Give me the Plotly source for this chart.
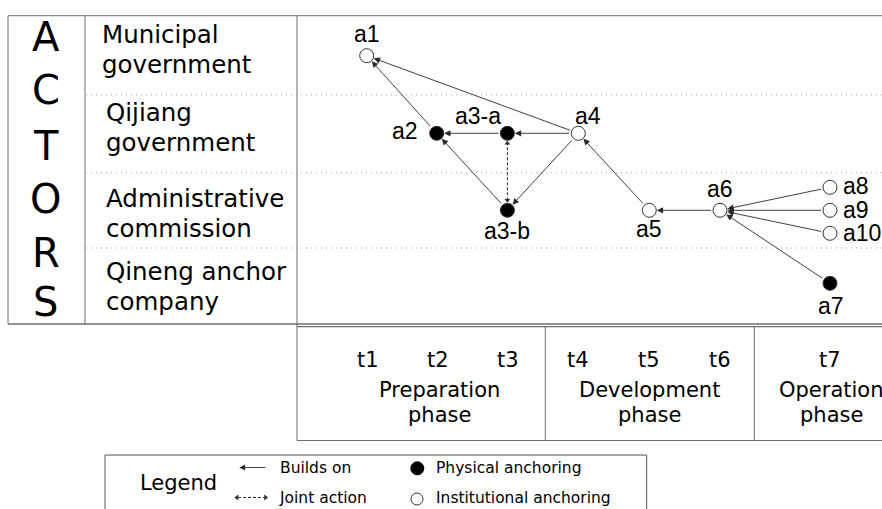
import plotly.graph_objects as go

# ---------------- data ----------------
actor_letters = ["A", "C", "T", "O", "R", "S"]
actor_lines = [["Municipal", "government"],
               ["Qijiang", "government"],
               ["Administrative", "commission"],
               ["Qineng anchor", "company"]]
time_steps = ["t1", "t2", "t3", "t4", "t5", "t6", "t7"]
phase_words = [["Preparation", "phase"], ["Development", "phase"], ["Operation", "phase"]]

node_names = ["a1", "a2", "a3-a", "a3-b", "a4", "a5", "a6", "a7", "a8", "a9", "a10"]
node_time = [1, 2, 3, 3, 4, 5, 6, 7, 7, 7, 7]          # time step index
node_actor = [0, 1, 1, 2, 1, 2, 2, 3, 2, 2, 2]         # actor row
node_slot = [0, 0, 0, 0, 0, 0, 0, 0, -1, 0, 1]         # sub-position inside a row
node_kind = ["inst", "phys", "phys", "phys", "inst", "inst", "inst",
             "phys", "inst", "inst", "inst"]

builds_on = [("a2", "a1"), ("a4", "a1"), ("a3-a", "a2"), ("a3-b", "a2"),
             ("a4", "a3-a"), ("a4", "a3-b"), ("a5", "a4"), ("a6", "a5"),
             ("a8", "a6"), ("a9", "a6"), ("a10", "a6"), ("a7", "a6")]
joint_action = [("a3-a", "a3-b")]

legend_items = ["Builds on", "Joint action", "Physical anchoring", "Institutional anchoring"]

# ---------------- layout constants (pixel scale) ----------------
W, H = 882, 509
col_x = {1: 366.7, 2: 436.7, 3: 507.4, 4: 578.3, 5: 649.3, 6: 720.0, 7: 830.0}
lane_y = [55.7, 133.3, 210.3, 283.3]
slot_gap = 23.0
lane_bounds = [15.7, 95.0, 172.7, 248.0, 324.0]
phase_edges = [297.0, 545.3, 754.3, 882.0]
phase_label_x = [439.5, 649.6, 831.0]

LINE = "#6e6e6e"
EDGE = "#2a2a2a"
SANS = "DejaVu Sans"
NODEF = "Liberation Sans"

# label placement relative to node: (dx, dy, xanchor)
label_off = {"a1": (0, -21.5, "center"), "a2": (-31.5, -2.6, "center"),
             "a3-a": (-29.8, -17.6, "center"), "a3-b": (0, 21.0, "center"),
             "a4": (10.0, -17.6, "center"), "a5": (0, 19.0, "center"),
             "a6": (0, -21.7, "center"), "a7": (0.7, 22.4, "center"),
             "a8": (11.5, -0.9, "left"), "a9": (11.5, -0.3, "left"),
             "a10": (11.5, 0.0, "left")}

def node_xy(name):
    i = node_names.index(name)
    return col_x[node_time[i]], lane_y[node_actor[i]] + slot_gap * node_slot[i]

fig = go.Figure()
shapes = []
ann = []

def hline(y, x0, x1, color=LINE, width=1.0, dash="solid"):
    shapes.append(dict(type="line", xref="x", yref="y", x0=x0, x1=x1, y0=y, y1=y,
                       line=dict(color=color, width=width, dash=dash)))

def vline(x, y0, y1, color=LINE, width=1.0):
    shapes.append(dict(type="line", xref="x", yref="y", x0=x, x1=x, y0=y0, y1=y1,
                       line=dict(color=color, width=width)))

# actor table frame
hline(lane_bounds[0], 8, W)
vline(8, lane_bounds[0], lane_bounds[-1])
vline(85, lane_bounds[0], lane_bounds[-1])
vline(phase_edges[0], lane_bounds[0], 440.5)
hline(lane_bounds[-1], 8, W, width=1.3)
for yb in lane_bounds[1:-1]:
    hline(yb, 86, W, color="#a8a8a8", width=1.0, dash="1px,4px")

# phase box
hline(326.6, phase_edges[0], W, width=1.3)
hline(440.5, phase_edges[0], W)
for xe in phase_edges[1:-1]:
    vline(xe, 326.6, 440.5)

# legend box
shapes.append(dict(type="rect", xref="x", yref="y", x0=105, x1=646.7, y0=455, y1=525,
                   line=dict(color="#555555", width=1.0), fillcolor="rgba(0,0,0,0)"))

def text(x, y, s, size, font=SANS, xanchor="center"):
    ann.append(dict(x=x, y=y, xref="x", yref="y", text=s, showarrow=False,
                    xanchor=xanchor, yanchor="middle", borderpad=0,
                    font=dict(family=font, size=size, color="black")))

# ACTORS column
letter_y = [37.0, 90.0, 146.0, 199.0, 252.5, 302.0]
for ch, yy in zip(actor_letters, letter_y):
    text(45.5, yy, ch, 40)

# actor names
actor_x = [101.0, 105.0, 105.0, 105.0]
actor_base = [[43.3, 72.7], [120.7, 150.7], [206.7, 236.7], [280.0, 310.0]]
for lines, xx, bases in zip(actor_lines, actor_x, actor_base):
    for s, b in zip(lines, bases):
        text(xx, b - 0.346 * 24.5, s, 24.5, xanchor="left")

# time steps & phases
for k, t in enumerate(time_steps, start=1):
    text(col_x[k] + (1 if k < 4 else 0), 360.4, t, 21)
for words, xx in zip(phase_words, phase_label_x):
    text(xx, 390.0, words[0], 21)
    text(xx, 415.2, words[1], 21)

# builds-on arrows
for src, dst in builds_on:
    (sx, sy), (dx, dy) = node_xy(src), node_xy(dst)
    ann.append(dict(x=dx, y=dy, ax=sx, ay=sy, xref="x", yref="y", axref="x", ayref="y",
                    text="", showarrow=True, arrowhead=2, arrowsize=1.4, arrowwidth=0.9,
                    arrowcolor=EDGE, standoff=7.5, startstandoff=7.5))

# joint action (dotted, double headed)
for a, b in joint_action:
    (ax_, ay_), (bx, by) = node_xy(a), node_xy(b)
    fig.add_trace(go.Scatter(x=[ax_, bx], y=[ay_ + 9, by - 9], mode="lines",
                             line=dict(color=EDGE, width=1, dash="3px,2px"),
                             hoverinfo="skip", showlegend=False))
    fig.add_trace(go.Scatter(x=[ax_, bx], y=[ay_ + 10, by - 10], mode="markers",
                             marker=dict(symbol=["triangle-up", "triangle-down"], size=5,
                                         color=EDGE, line=dict(width=0)),
                             hoverinfo="skip", showlegend=False))

# nodes
for kind, fill in (("inst", "white"), ("phys", "black")):
    xs, ys = [], []
    for n, k in zip(node_names, node_kind):
        if k == kind:
            x, y = node_xy(n)
            xs.append(x); ys.append(y)
    fig.add_trace(go.Scatter(x=xs, y=ys, mode="markers",
                             marker=dict(size=14, color=fill,
                                         line=dict(color="#333333", width=1)),
                             hoverinfo="skip", showlegend=False))

# node labels
for n in node_names:
    x, y = node_xy(n)
    ddx, ddy, xa = label_off[n]
    text(x + ddx, y + ddy, n, 23, font=NODEF, xanchor=xa)

# legend content
text(178.3, 482.5, "Legend", 21)
ann.append(dict(x=239.3, y=467.5, ax=266.7, ay=467.5, xref="x", yref="y", axref="x", ayref="y",
                text="", showarrow=True, arrowhead=2, arrowsize=1.3, arrowwidth=0.9,
                arrowcolor=EDGE, standoff=0, startstandoff=0))
fig.add_trace(go.Scatter(x=[238, 264], y=[497.5, 497.5], mode="lines",
                         line=dict(color=EDGE, width=1, dash="3px,2px"),
                         hoverinfo="skip", showlegend=False))
fig.add_trace(go.Scatter(x=[237, 265.5], y=[497.5, 497.5], mode="markers",
                         marker=dict(symbol=["triangle-left", "triangle-right"], size=5,
                                     color=EDGE, line=dict(width=0)),
                         hoverinfo="skip", showlegend=False))
text(279.0, 468.0, legend_items[0], 15.5, xanchor="left")
text(277.5, 498.0, legend_items[1], 15.5, xanchor="left")
fig.add_trace(go.Scatter(x=[417.3], y=[468.3], mode="markers",
                         marker=dict(size=13, color="black", line=dict(color="black", width=1)),
                         hoverinfo="skip", showlegend=False))
fig.add_trace(go.Scatter(x=[417.0], y=[499.0], mode="markers",
                         marker=dict(size=12, color="white", line=dict(color="#333333", width=1)),
                         hoverinfo="skip", showlegend=False))
text(434.5, 467.8, legend_items[2], 15.5, xanchor="left")
text(434.5, 497.8, legend_items[3], 15.5, xanchor="left")

fig.update_layout(
    width=W, height=H, margin=dict(l=0, r=0, t=0, b=0),
    paper_bgcolor="white", plot_bgcolor="white", showlegend=False,
    xaxis=dict(range=[0, W], visible=False, fixedrange=True),
    yaxis=dict(range=[H, 0], visible=False, fixedrange=True),
    shapes=shapes, annotations=ann,
)
fig.write_html("out.html", config={"displayModeBar": False},
               post_script="document.body.style.margin='0';document.body.style.overflow='hidden';")
